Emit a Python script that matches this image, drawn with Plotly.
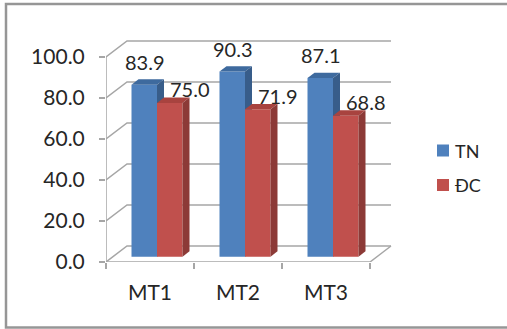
import plotly.graph_objects as go

# ---- data ----
categories = ["MT1", "MT2", "MT3"]
series_names = ["TN", "ĐC"]
tn_values = [83.9, 90.3, 87.1]
dc_values = [75.0, 71.9, 68.8]
y_tick_values = [0, 20, 40, 60, 80, 100]
y_tick_labels = ["0.0", "20.0", "40.0", "60.0", "80.0", "100.0"]

# ---- geometry (layout constants) ----
W, H = 507, 329
ML, MR, MT, MB = 106, 114, 40, 67
PX_PER_U = 88.0          # px per category unit
PX_PER_V = 2.05          # px per value unit
plot_w = W - ML - MR
plot_h = H - MT - MB
x_range = [-0.5, -0.5 + plot_w / PX_PER_U]
y_range = [0, plot_h / PX_PER_V]

BDX = 21 / PX_PER_U      # full depth offset (x)
BDY = 16 / PX_PER_V      # full depth offset (y)
FDX, FDY = BDX / 3, BDY / 3   # bar front plane offset
DDX, DDY = BDX / 3, BDY / 3   # bar depth
BW = 25.5 / PX_PER_U     # bar width

GRID = "#a6a6a6"
FONT = "Lato"
TXT = "#262626"

colors = {
    "TN": ("#4f81bd", "#3e6a9e", "#385d8a"),
    "ĐC": ("#c0504d", "#a8433f", "#8c3a37"),
}

fig = go.Figure()

series = [("TN", tn_values, -1), ("ĐC", dc_values, 0)]
label_shift = {"TN": (-3, 20), "ĐC": (17, 11)}

annotations = []
for i, cat in enumerate(categories):
    for name, vals, side in series:
        v = vals[i]
        front, top, sidec = colors[name]
        x0 = i + FDX + side * BW
        x1 = x0 + BW
        yb = FDY
        yt = FDY + v
        # front face
        fig.add_trace(go.Scatter(x=[x0, x1, x1, x0, x0], y=[yb, yb, yt, yt, yb],
                                 fill="toself", fillcolor=front, mode="lines",
                                 line=dict(width=0, color=front), hoverinfo="skip",
                                 showlegend=False))
        # top face
        fig.add_trace(go.Scatter(x=[x0, x1, x1 + DDX, x0 + DDX, x0],
                                 y=[yt, yt, yt + DDY, yt + DDY, yt],
                                 fill="toself", fillcolor=top, mode="lines",
                                 line=dict(width=0, color=top), hoverinfo="skip",
                                 showlegend=False))
        # side face
        fig.add_trace(go.Scatter(x=[x1, x1 + DDX, x1 + DDX, x1, x1],
                                 y=[yb, yb + DDY, yt + DDY, yt, yb],
                                 fill="toself", fillcolor=sidec, mode="lines",
                                 line=dict(width=0, color=sidec), hoverinfo="skip",
                                 showlegend=False))
        sx, sy = label_shift[name]
        annotations.append(dict(x=(x0 + x1) / 2 + DDX / 2, y=yt + DDY / 2,
                                text=f"{v:.1f}", showarrow=False,
                                xshift=sx, yshift=sy, xanchor="center", yanchor="middle",
                                font=dict(family=FONT, size=20, color=TXT)))

# walls / grid / axes
shapes = []
xl = -0.5
xr = len(categories) - 0.5
for v in y_tick_values:
    shapes.append(dict(type="path", xref="x", yref="y",
                       path=f"M{xl},{v} L{xl + BDX},{v + BDY} L{xr + BDX},{v + BDY}",
                       line=dict(color=GRID, width=1.5), layer="below"))
shapes.append(dict(type="line", xref="x", yref="y", x0=xl, y0=0, x1=xl, y1=y_tick_values[-1],
                   line=dict(color=GRID, width=1.5), layer="below"))
shapes.append(dict(type="path", xref="x", yref="y",
                   path=f"M{xl},0 L{xr},0 L{xr + BDX},{BDY}",
                   line=dict(color=GRID, width=1.5), layer="below"))

# outer border (paper coords from pixels)
def px_to_paper_x(px):
    return (px - ML) / plot_w

def py_to_paper_y(py):
    return (H - MB - py) / plot_h

shapes.append(dict(type="rect", xref="paper", yref="paper",
                   x0=px_to_paper_x(6), x1=px_to_paper_x(512),
                   y0=py_to_paper_y(327.5), y1=py_to_paper_y(4),
                   line=dict(color="#969696", width=2.5), layer="below"))

# manual legend
legend_rows = [150.5, 185]
for name, cy in zip(series_names, legend_rows):
    shapes.append(dict(type="rect", xref="paper", yref="paper",
                       x0=px_to_paper_x(437), x1=px_to_paper_x(449),
                       y0=py_to_paper_y(cy + 6), y1=py_to_paper_y(cy - 6),
                       fillcolor=colors[name][0], line=dict(width=0)))
    annotations.append(dict(xref="paper", yref="paper", x=px_to_paper_x(453),
                            y=py_to_paper_y(cy), text=name, showarrow=False,
                            xanchor="left", yanchor="middle",
                            font=dict(family=FONT, size=18, color=TXT)))

fig.update_layout(
    width=W, height=H,
    margin=dict(l=ML, r=MR, t=MT, b=MB, pad=0),
    paper_bgcolor="white", plot_bgcolor="white",
    showlegend=False,
    shapes=shapes, annotations=annotations,
    xaxis=dict(range=x_range, showgrid=False, zeroline=False, showline=False,
               tickmode="array", tickvals=list(range(len(categories))), ticktext=categories,
               ticks="", ticklabelstandoff=16,
               tickfont=dict(family=FONT, size=21, color=TXT),
               minor=dict(tickmode="array",
                          tickvals=[k - 0.5 for k in range(len(categories) + 1)],
                          ticks="outside", ticklen=6, tickcolor=GRID, tickwidth=1.5,
                          showgrid=False),
               fixedrange=True),
    yaxis=dict(range=y_range, showgrid=False, zeroline=False, showline=False,
               tickmode="array", tickvals=y_tick_values, ticktext=y_tick_labels,
               ticks="outside", ticklen=6, tickcolor=GRID, tickwidth=1.5,
               ticklabelstandoff=10,
               tickfont=dict(family=FONT, size=21, color=TXT),
               fixedrange=True),
)

fig.write_html("out.html")
